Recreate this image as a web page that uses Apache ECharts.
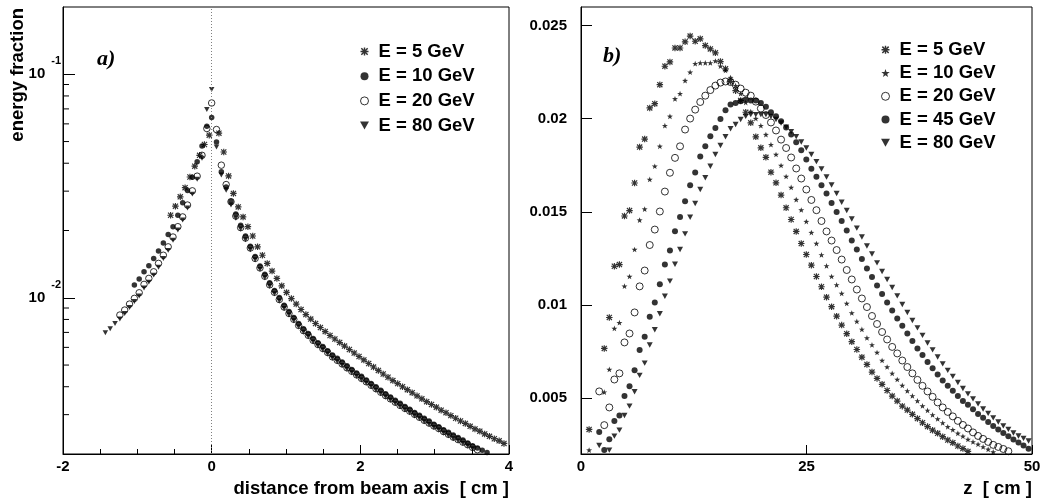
<!DOCTYPE html>
<html>
<head>
<meta charset="utf-8">
<script src="https://cdn.jsdelivr.net/npm/echarts@6/dist/echarts.min.js"></script>
<style>
html,body{margin:0;padding:0;background:#fff;}
#chart{width:1055px;height:503px;}
</style>
</head>
<body>
<div id="chart"></div>
<script>
// ---------- panel a): lateral profile (log scale) ----------
// radial positions [cm] shared by the 10, 20 and 80 GeV profiles
const distA = [-1.43,-1.365,-1.3,-1.235,-1.17,-1.105,-1.04,-0.975,-0.91,-0.845,-0.78,-0.715,-0.65,-0.585,-0.52,-0.455,-0.39,-0.325,-0.26,-0.195,-0.13,-0.065,0,0.065,0.13,0.195,0.26,0.325,0.39,0.455,0.52,0.585,0.65,0.715,0.78,0.845,0.91,0.975,1.04,1.105,1.17,1.235,1.3,1.365,1.43,1.495,1.56,1.625,1.69,1.755,1.82,1.885,1.95,2.015,2.08,2.145,2.21,2.275,2.34,2.405,2.47,2.535,2.6,2.665,2.73,2.795,2.86,2.925,2.99,3.055,3.12,3.185,3.25,3.315,3.38,3.445,3.51,3.575,3.64,3.705];
const frac10A = [null,null,null,null,null,null,0.0114,0.01212,0.01307,0.0139,0.015,0.0162,0.0176,0.0192,0.0208,0.0234,0.0266,0.0302,0.0346,0.0406,0.0478,0.0586,0.064,0.0498,0.0366,0.0313,0.027,0.0237,0.0211,0.0189,0.0170,0.0153,0.01387,0.01273,0.01166,0.01079,0.01002,0.00927,0.00868,0.00817,0.00767,0.00727,0.00693,0.00658,0.0063,0.00605,0.0058,0.00555,0.00536,0.00516,0.00496,0.00478,0.00461,0.00445,0.00429,0.00414,0.004,0.00386,0.00372,0.0036,0.00348,0.00337,0.00326,0.00317,0.00307,0.00298,0.00289,0.00281,0.00272,0.00265,0.00257,0.0025,0.00243,0.00237,0.00231,0.00224,0.00218,0.00213,0.00208,0.00203];
const frac20A = [null,null,null,0.00837,0.00881,0.00937,0.00994,0.01053,0.01148,0.01221,0.01307,0.01425,0.0155,0.0169,0.0187,0.0208,0.023,0.026,0.0301,0.035,0.0434,0.0572,0.0744,0.0566,0.0392,0.0321,0.0269,0.0232,0.0206,0.0185,0.0167,0.0150,0.0136,0.01248,0.01143,0.01058,0.00982,0.00909,0.00851,0.00801,0.00752,0.00713,0.00679,0.00645,0.00618,0.00593,0.00569,0.00544,0.00525,0.00506,0.00486,0.00469,0.00452,0.00436,0.00421,0.00406,0.00392,0.00378,0.00365,0.00353,0.00341,0.0033,0.0032,0.00311,0.00301,0.00292,0.00283,0.00275,0.00267,0.0026,0.00252,0.00245,0.00238,0.00232,0.00226,0.0022,0.00214,0.00209,null,null];
const frac80A = [0.00698,0.00727,0.00768,0.00803,0.0085,0.00904,0.00962,0.01018,0.01105,0.01175,0.01263,0.0137,0.015,0.0163,0.0181,0.0201,0.0223,0.0252,0.0291,0.0339,0.0421,0.0696,0.0854,0.0473,0.0354,0.0303,0.026,0.0227,0.0203,0.0182,0.0164,0.0148,0.0134,0.01229,0.01126,0.01042,0.00967,0.00895,0.00838,0.00789,0.00741,0.00702,0.00669,0.00635,0.00609,0.00584,0.0056,0.00536,0.00517,0.00498,0.00479,0.00462,0.00445,0.00429,0.00415,0.004,0.00386,0.00372,0.0036,0.00348,0.00336,0.00325,0.00315,0.00306,0.00296,0.00288,0.00279,0.00271,0.00263,0.00256,0.00248,0.00241,0.00234,0.00229,0.00223,0.00217,0.00211,null,null,null];
// radial positions [cm] of the 5 GeV profile (shifted by half a bin)
const distA5 = [-0.5525,-0.4875,-0.4225,-0.3575,-0.2925,-0.2275,-0.1625,-0.0975,-0.0325,0.0975,0.1625,0.2275,0.2925,0.3575,0.4225,0.4875,0.5525,0.6175,0.6825,0.7475,0.8125,0.8775,0.9425,1.0075,1.0725,1.1375,1.2025,1.2675,1.3325,1.3975,1.4625,1.5275,1.5925,1.6575,1.7225,1.7875,1.8525,1.9175,1.9825,2.0475,2.1125,2.1775,2.2425,2.3075,2.3725,2.4375,2.5025,2.5675,2.6325,2.6975,2.7625,2.8275,2.8925,2.9575,3.0225,3.0875,3.1525,3.2175,3.2825,3.3475,3.4125,3.4775,3.5425,3.6075,3.6725,3.7375,3.8025,3.8675,3.9325];
const frac5A = [0.0234,0.0257,0.0283,0.0311,0.0347,0.0388,0.0434,0.0485,0.0534,0.0545,0.0449,0.0351,0.0293,0.0255,0.023,0.0208,0.0189,0.0169,0.0155,0.01425,0.01317,0.01221,0.01131,0.01057,0.00992,0.00937,0.00886,0.00841,0.00803,0.00767,0.00736,0.00706,0.00678,0.00654,0.00631,0.00608,0.00587,0.00566,0.00546,0.00527,0.00508,0.0049,0.00473,0.00456,0.00441,0.00426,0.00413,0.004,0.00388,0.00376,0.00364,0.00353,0.00343,0.00333,0.00324,0.00314,0.00306,0.00297,0.00289,0.00281,0.00274,0.00266,0.00259,0.00253,0.00246,0.0024,0.00234,0.00229,0.00223];
const logMinorTicks = [0.003,0.004,0.005,0.006,0.007,0.008,0.009,0.02,0.03,0.04,0.05,0.06,0.07,0.08,0.09];

// ---------- panel b): longitudinal profile ----------
const depth = [0.9,1.46,2.02,2.58,3.14,3.7,4.26,4.82,5.38,5.94,6.5,7.06,7.62,8.18,8.74,9.3,9.86,10.42,10.98,11.54,12.1,12.66,13.22,13.78,14.34,14.9,15.46,16.02,16.58,17.14,17.7,18.26,18.82,19.38,19.94,20.5,21.06,21.62,22.18,22.74,23.3,23.86,24.42,24.98,25.54,26.1,26.66,27.22,27.78,28.34,28.9,29.46,30.02,30.58,31.14,31.7,32.26,32.82,33.38,33.94,34.5,35.06,35.62,36.18,36.74,37.3,37.86,38.42,38.98,39.54,40.1,40.66,41.22,41.78,42.34,42.9,43.46,44.02,44.58,45.14,45.7,46.26,46.82,47.38,47.94,48.5,49.06,49.62];
const frac5B = [0.00332,null,null,0.00767,0.00933,0.01208,0.01217,0.01478,0.01507,0.01655,0.01848,0.01891,0.02058,0.02081,0.02183,0.02282,0.02305,0.0238,0.0238,0.02413,0.02444,0.02416,0.02429,0.02393,0.02375,0.02354,0.02307,0.02268,0.022,0.02151,0.02098,0.02035,0.01978,0.01903,0.01844,0.01793,0.01713,0.01656,0.0159,0.01522,0.01459,0.01395,0.0133,0.01271,0.01214,0.01153,0.01098,0.01042,0.00991,0.0094,0.00892,0.00846,0.00803,0.00761,0.0072,0.00681,0.0064,0.00606,0.00574,0.00541,0.00511,0.00484,0.00457,0.00436,0.00413,0.0039,0.00368,0.00347,0.00328,0.00311,0.00293,0.00275,0.00261,0.00243,0.00229,0.00214,null,null,null,null,null,null,null,null,null,null,null,null];
const frac10B = [0.00221,null,null,0.00532,0.00654,0.00874,0.00905,0.01101,0.01153,0.01298,0.01456,0.01515,0.01674,0.01745,0.01852,0.01963,0.02013,0.02107,0.02135,0.02205,0.0225,0.02296,0.023,0.023,0.023,0.0231,0.02282,0.02259,0.02221,0.02178,0.02135,0.02087,0.02039,0.02001,0.01963,0.01915,0.01861,0.01808,0.01749,0.0169,0.01631,0.01566,0.0151,0.01448,0.01389,0.0133,0.01269,0.0121,0.01153,0.01108,0.01062,0.01008,0.00957,0.00912,0.00869,0.00823,0.00786,0.00745,0.00702,0.00667,0.00633,0.006,0.00568,0.00539,0.00512,0.00485,0.00458,0.00434,0.0041,0.00388,0.00367,0.00346,0.0033,0.00311,0.00295,0.00278,0.00265,0.00252,0.00238,0.00225,0.00211,null,null,null,null,null,null,null];
const frac20B = [null,null,0.00536,0.00355,0.0045,0.006,0.00633,0.00799,0.00847,0.0096,0.011,0.01185,0.01322,0.01405,0.01502,0.01609,0.0171,0.0179,0.01852,0.01942,0.02001,0.02049,0.0209,0.02124,0.02154,0.02178,0.02194,0.022,0.02197,0.02183,0.02162,0.0214,0.02124,0.02092,0.02055,0.0202,0.0198,0.01937,0.01888,0.01843,0.01792,0.01733,0.01679,0.0162,0.01564,0.01509,0.01451,0.01395,0.01346,0.01295,0.01244,0.01188,0.01137,0.01083,0.01035,0.00989,0.00941,0.00898,0.00855,0.00815,0.00775,0.0074,0.00702,0.00667,0.00633,0.00598,0.00566,0.00536,0.00507,0.00477,0.0045,0.00426,0.00402,0.00378,0.00356,0.00337,0.00316,0.00297,0.00281,0.00265,0.00249,0.00238,0.00227,0.00215,null,null,null,null];
const frac45B = [null,null,0.00318,0.00221,0.00279,0.00377,0.00407,0.00511,0.00564,0.0065,0.00758,0.0083,0.00937,0.01014,0.01112,0.01218,0.01293,0.01396,0.01473,0.01557,0.01643,0.01711,0.01797,0.01852,0.01906,0.01951,0.01999,0.02045,0.02076,0.02085,0.02094,0.02103,0.02098,0.02098,0.02085,0.02064,0.02035,0.02013,0.01986,0.01953,0.01915,0.01874,0.01831,0.01781,0.01731,0.01688,0.01643,0.01598,0.01548,0.015,0.01451,0.014,0.01346,0.01298,0.01247,0.01196,0.0115,0.01105,0.01059,0.01014,0.00971,0.00928,0.00888,0.00847,0.00807,0.00767,0.00732,0.00694,0.0066,0.00627,0.00595,0.00566,0.00539,0.00512,0.00485,0.00464,0.0044,0.00415,0.00394,0.00372,0.00351,0.00332,0.00313,0.00295,0.00278,0.00262,0.00246,0.00228];
const frac80B = [null,null,0.00246,null,0.00221,0.00296,0.00328,0.00407,0.00457,0.00534,0.00622,0.00688,0.00785,0.00867,0.00953,0.01047,0.01128,0.01219,0.01298,0.01382,0.01471,0.01545,0.0162,0.01683,0.01745,0.01808,0.01856,0.01903,0.01946,0.01969,0.01996,0.02013,0.02022,0.02022,0.02022,0.02022,0.02012,0.01996,0.01977,0.01955,0.01931,0.01904,0.01875,0.01843,0.01808,0.0177,0.0173,0.01687,0.01644,0.01599,0.01552,0.01507,0.01462,0.01413,0.01365,0.01317,0.01274,0.01226,0.0118,0.01137,0.01094,0.01049,0.01003,0.0096,0.00917,0.00877,0.00837,0.00796,0.00759,0.00721,0.00684,0.00649,0.00617,0.00584,0.00552,0.00523,0.00496,0.00469,0.00442,0.00418,0.00394,0.00372,0.00351,0.00332,0.00313,0.00297,0.00284,0.0027];
const linTicksB = [0.005,0.01,0.015,0.02,0.025];

// ---------- marker shapes ----------
const SYM_AST = 'path://M4.1,0H5.9V10H4.1Z M0,4.1H10V5.9H0Z M0.4,1.7L1.7,0.4L9.6,8.3L8.3,9.6Z M8.3,0.4L9.6,1.7L1.7,9.6L0.4,8.3Z';
const SYM_STAR = 'path://M5,0.4L6.18,3.78L9.76,3.86L6.9,6.02L7.94,9.45L5,7.4L2.06,9.45L3.1,6.02L0.24,3.86L3.82,3.78Z';
const SYM_TRI = 'path://M0,0L10,0L5,9Z';
const FONT = '"Liberation Sans", Arial, Helvetica, sans-serif';

function zipPts(xs, ys) {
  const out = [];
  for (let i = 0; i < xs.length; i++) if (ys[i] != null) out.push([xs[i], ys[i]]);
  return out;
}

const BLACK = {color: '#000', borderWidth: 0};
const HOLLOW = {color: 'rgba(0,0,0,0)', borderColor: '#000', borderWidth: 1};

function scatter(name, grid, xs, ys, sym, size, style) {
  return {
    type: 'scatter', name: name, xAxisIndex: grid, yAxisIndex: grid,
    data: zipPts(xs, ys), symbol: sym, symbolSize: size, symbolKeepAspect: true,
    itemStyle: style, silent: true, clip: true
  };
}

const tickLabel = {color: '#000', fontFamily: FONT, fontWeight: 'bold', fontSize: 15};
const axisLineBlack = {show: true, onZero: false, lineStyle: {color: '#000', width: 1}};

const chart = echarts.init(document.getElementById('chart'), null, {renderer: 'canvas'});

// 5 GeV lateral profile carries the dotted beam-axis marker at x = 0
const s5a = scatter('E = 5 GeV', 0, distA5, frac5A, SYM_AST, 6.5, BLACK);
s5a.markLine = {
  silent: true, symbol: ['none', 'none'], label: {show: false}, animation: false,
  lineStyle: {type: [1, 2], color: '#808080', width: 1},
  data: [{xAxis: 0}]
};

const option = {
  animation: false,
  backgroundColor: '#fff',
  grid: [
    {left: 63, top: 7, width: 446, height: 447, show: true, borderColor: '#000', borderWidth: 1},
    {left: 581, top: 7, width: 451, height: 447, show: true, borderColor: '#000', borderWidth: 1}
  ],
  xAxis: [
    {
      gridIndex: 0, type: 'value', min: -2, max: 4, interval: 2,
      axisLine: axisLineBlack,
      axisTick: {show: true, inside: true, length: 9, lineStyle: {color: '#000'}},
      minorTick: {show: true, splitNumber: 4, length: 5, lineStyle: {color: '#000'}},
      splitLine: {show: false},
      axisLabel: Object.assign({margin: 5}, tickLabel)
    },
    {
      gridIndex: 1, type: 'value', min: 0, max: 50, interval: 25,
      axisLine: axisLineBlack,
      axisTick: {show: true, inside: true, length: 9, lineStyle: {color: '#000'}},
      splitLine: {show: false},
      axisLabel: Object.assign({margin: 5}, tickLabel)
    }
  ],
  yAxis: [
    {
      gridIndex: 0, type: 'log', logBase: 10, min: 0.002, max: 0.2,
      axisLine: axisLineBlack,
      axisTick: {show: true, inside: true, length: 12, lineStyle: {color: '#000'}},
      splitLine: {show: false},
      axisLabel: {
        margin: 2, showMinLabel: false, showMaxLabel: false,
        formatter: function (v) {
          const e = Math.log10(v), r = Math.round(e);
          return Math.abs(e - r) < 1e-6 ? '{b|10}{s|' + r + '}' : '';
        },
        rich: {
          b: {color: '#000', fontFamily: FONT, fontWeight: 'bold', fontSize: 15, verticalAlign: 'middle'},
          s: {color: '#000', fontFamily: FONT, fontWeight: 'bold', fontSize: 11, verticalAlign: 'middle', padding: [0, 0, 26, 6]}
        }
      }
    },
    {
      gridIndex: 1, type: 'value', min: 0.002, max: 0.026,
      axisLine: axisLineBlack,
      axisTick: {show: true, inside: true, length: 11, lineStyle: {color: '#000'}, customValues: linTicksB},
      splitLine: {show: false},
      axisLabel: Object.assign({
        margin: 14, customValues: linTicksB,
        formatter: function (v) { return String(parseFloat(v.toFixed(4))); }
      }, tickLabel)
    }
  ],
  legend: [
    {
      orient: 'vertical', left: 360, top: 42, padding: 0, itemWidth: 18, itemHeight: 8, itemGap: 5.7,
      selectedMode: false,
      textStyle: {color: '#000', fontFamily: FONT, fontWeight: 'bold', fontSize: 18.5, lineHeight: 16},
      data: [
        {name: 'E = 5 GeV', icon: SYM_AST, itemStyle: BLACK},
        {name: 'E = 10 GeV', icon: 'circle', itemStyle: BLACK},
        {name: 'E = 20 GeV', icon: 'circle', itemStyle: HOLLOW},
        {name: 'E = 80 GeV', icon: SYM_TRI, itemStyle: BLACK}
      ]
    },
    {
      orient: 'vertical', left: 881, top: 40.3, padding: 0, itemWidth: 18, itemHeight: 8, itemGap: 4.25,
      selectedMode: false,
      textStyle: {color: '#000', fontFamily: FONT, fontWeight: 'bold', fontSize: 18.5, lineHeight: 16},
      data: [
        {name: 'E = 5 GeV', icon: SYM_AST, itemStyle: BLACK},
        {name: 'E = 10 GeV', icon: SYM_STAR, itemStyle: BLACK},
        {name: 'E = 20 GeV', icon: 'circle', itemStyle: HOLLOW},
        {name: 'E = 45 GeV', icon: 'circle', itemStyle: BLACK},
        {name: 'E = 80 GeV', icon: SYM_TRI, itemStyle: BLACK}
      ]
    }
  ],
  graphic: [
    {type: 'text', x: 97, y: 59, style: {text: 'a)', fill: '#000', font: 'italic bold 22px "Liberation Serif", "Times New Roman", serif', textVerticalAlign: 'middle'}},
    {type: 'text', x: 603, y: 56, style: {text: 'b)', fill: '#000', font: 'italic bold 22px "Liberation Serif", "Times New Roman", serif', textVerticalAlign: 'middle'}},
    {type: 'text', x: 509, y: 489, style: {text: 'distance from beam axis  [ cm ]', fill: '#000', font: 'bold 18.5px ' + FONT, textAlign: 'right', textVerticalAlign: 'middle'}},
    {type: 'text', x: 1032, y: 489, style: {text: 'z  [ cm ]', fill: '#000', font: 'bold 18.5px ' + FONT, textAlign: 'right', textVerticalAlign: 'middle'}},
    {type: 'text', x: 18, y: 8, rotation: Math.PI / 2, style: {text: 'energy fraction', fill: '#000', font: 'bold 18.5px ' + FONT, textAlign: 'right', textVerticalAlign: 'middle'}}
  ],
  series: [
    s5a,
    scatter('E = 10 GeV', 0, distA, frac10A, 'circle', 5.5, BLACK),
    scatter('E = 20 GeV', 0, distA, frac20A, 'circle', 6.5, HOLLOW),
    scatter('E = 80 GeV', 0, distA, frac80A, SYM_TRI, 5.5, BLACK),
    {
      // minor decade ticks on the logarithmic axis
      type: 'custom', xAxisIndex: 0, yAxisIndex: 0, silent: true, clip: false, z: 3,
      data: logMinorTicks.map(function (v) { return [-2, v]; }),
      encode: {x: 0, y: 1},
      renderItem: function (params, api) {
        const p = api.coord([api.value(0), api.value(1)]);
        return {type: 'line', shape: {x1: p[0], y1: p[1], x2: p[0] + 6, y2: p[1]}, style: {stroke: '#000', lineWidth: 1}};
      }
    },
    scatter('E = 5 GeV', 1, depth, frac5B, SYM_AST, 6.5, BLACK),
    scatter('E = 10 GeV', 1, depth, frac10B, SYM_STAR, 6, BLACK),
    scatter('E = 20 GeV', 1, depth, frac20B, 'circle', 7, HOLLOW),
    scatter('E = 45 GeV', 1, depth, frac45B, 'circle', 6, BLACK),
    scatter('E = 80 GeV', 1, depth, frac80B, SYM_TRI, 6, BLACK)
  ]
};
chart.setOption(option);
</script>
</body>
</html>
